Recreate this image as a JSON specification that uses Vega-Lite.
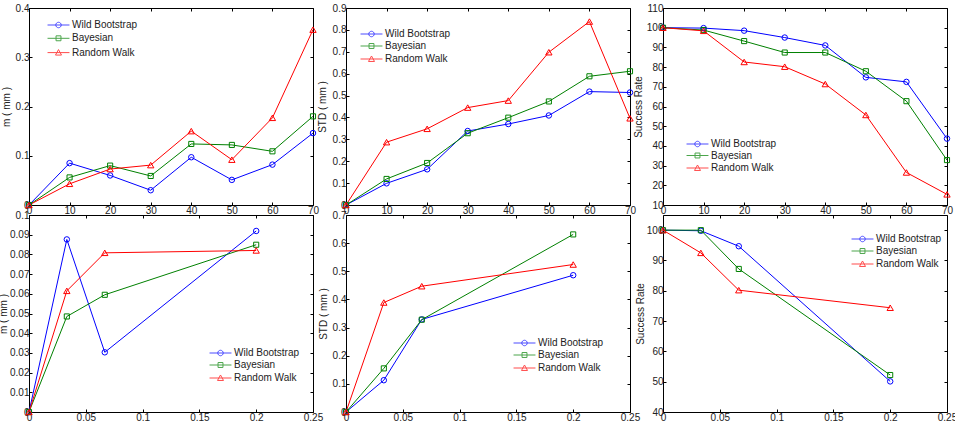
{
  "$schema": "https://vega.github.io/schema/vega-lite/v6.json",
  "background": "white",
  "padding": {"left": -3, "top": 2, "right": 0, "bottom": 0},
  "datasets": {
    "p1": [
      {"method": "Wild Bootstrap", "x": 0, "y": 0}, {"method": "Wild Bootstrap", "x": 10, "y": 0.085}, {"method": "Wild Bootstrap", "x": 20, "y": 0.06}, {"method": "Wild Bootstrap", "x": 30, "y": 0.03}, {"method": "Wild Bootstrap", "x": 40, "y": 0.097}, {"method": "Wild Bootstrap", "x": 50, "y": 0.051}, {"method": "Wild Bootstrap", "x": 60, "y": 0.082}, {"method": "Wild Bootstrap", "x": 70, "y": 0.146},
      {"method": "Bayesian", "x": 0, "y": 0}, {"method": "Bayesian", "x": 10, "y": 0.056}, {"method": "Bayesian", "x": 20, "y": 0.08}, {"method": "Bayesian", "x": 30, "y": 0.059}, {"method": "Bayesian", "x": 40, "y": 0.124}, {"method": "Bayesian", "x": 50, "y": 0.122}, {"method": "Bayesian", "x": 60, "y": 0.109}, {"method": "Bayesian", "x": 70, "y": 0.18},
      {"method": "Random Walk", "x": 0, "y": 0}, {"method": "Random Walk", "x": 10, "y": 0.043}, {"method": "Random Walk", "x": 20, "y": 0.073}, {"method": "Random Walk", "x": 30, "y": 0.081}, {"method": "Random Walk", "x": 40, "y": 0.15}, {"method": "Random Walk", "x": 50, "y": 0.092}, {"method": "Random Walk", "x": 60, "y": 0.177}, {"method": "Random Walk", "x": 70, "y": 0.356}
    ],
    "p2": [
      {"method": "Wild Bootstrap", "x": 0, "y": 0}, {"method": "Wild Bootstrap", "x": 10, "y": 0.099}, {"method": "Wild Bootstrap", "x": 20, "y": 0.163}, {"method": "Wild Bootstrap", "x": 30, "y": 0.338}, {"method": "Wild Bootstrap", "x": 40, "y": 0.37}, {"method": "Wild Bootstrap", "x": 50, "y": 0.409}, {"method": "Wild Bootstrap", "x": 60, "y": 0.518}, {"method": "Wild Bootstrap", "x": 70, "y": 0.514},
      {"method": "Bayesian", "x": 0, "y": 0}, {"method": "Bayesian", "x": 10, "y": 0.119}, {"method": "Bayesian", "x": 20, "y": 0.192}, {"method": "Bayesian", "x": 30, "y": 0.328}, {"method": "Bayesian", "x": 40, "y": 0.399}, {"method": "Bayesian", "x": 50, "y": 0.473}, {"method": "Bayesian", "x": 60, "y": 0.588}, {"method": "Bayesian", "x": 70, "y": 0.611},
      {"method": "Random Walk", "x": 0, "y": 0}, {"method": "Random Walk", "x": 10, "y": 0.287}, {"method": "Random Walk", "x": 20, "y": 0.348}, {"method": "Random Walk", "x": 30, "y": 0.445}, {"method": "Random Walk", "x": 40, "y": 0.477}, {"method": "Random Walk", "x": 50, "y": 0.698}, {"method": "Random Walk", "x": 60, "y": 0.838}, {"method": "Random Walk", "x": 70, "y": 0.396}
    ],
    "p3": [
      {"method": "Wild Bootstrap", "x": 0, "y": 100}, {"method": "Wild Bootstrap", "x": 10, "y": 99.8}, {"method": "Wild Bootstrap", "x": 20, "y": 98.5}, {"method": "Wild Bootstrap", "x": 30, "y": 95}, {"method": "Wild Bootstrap", "x": 40, "y": 91}, {"method": "Wild Bootstrap", "x": 50, "y": 74.8}, {"method": "Wild Bootstrap", "x": 60, "y": 72.5}, {"method": "Wild Bootstrap", "x": 70, "y": 43.7},
      {"method": "Bayesian", "x": 0, "y": 100}, {"method": "Bayesian", "x": 10, "y": 98.8}, {"method": "Bayesian", "x": 20, "y": 93.2}, {"method": "Bayesian", "x": 30, "y": 87.4}, {"method": "Bayesian", "x": 40, "y": 87.4}, {"method": "Bayesian", "x": 50, "y": 77.9}, {"method": "Bayesian", "x": 60, "y": 62.7}, {"method": "Bayesian", "x": 70, "y": 32.8},
      {"method": "Random Walk", "x": 0, "y": 100}, {"method": "Random Walk", "x": 10, "y": 98.4}, {"method": "Random Walk", "x": 20, "y": 82.6}, {"method": "Random Walk", "x": 30, "y": 80.2}, {"method": "Random Walk", "x": 40, "y": 71.4}, {"method": "Random Walk", "x": 50, "y": 55.7}, {"method": "Random Walk", "x": 60, "y": 26.5}, {"method": "Random Walk", "x": 70, "y": 15.4}
    ],
    "p4": [
      {"method": "Wild Bootstrap", "x": 0, "y": 0}, {"method": "Wild Bootstrap", "x": 0.0333, "y": 0.0876}, {"method": "Wild Bootstrap", "x": 0.0667, "y": 0.0303}, {"method": "Wild Bootstrap", "x": 0.2, "y": 0.0919},
      {"method": "Bayesian", "x": 0, "y": 0}, {"method": "Bayesian", "x": 0.0333, "y": 0.0485}, {"method": "Bayesian", "x": 0.0667, "y": 0.0595}, {"method": "Bayesian", "x": 0.2, "y": 0.0849},
      {"method": "Random Walk", "x": 0, "y": 0}, {"method": "Random Walk", "x": 0.0333, "y": 0.0615}, {"method": "Random Walk", "x": 0.0667, "y": 0.0808}, {"method": "Random Walk", "x": 0.2, "y": 0.082}
    ],
    "p5": [
      {"method": "Wild Bootstrap", "x": 0, "y": 0}, {"method": "Wild Bootstrap", "x": 0.0333, "y": 0.113}, {"method": "Wild Bootstrap", "x": 0.0667, "y": 0.329}, {"method": "Wild Bootstrap", "x": 0.2, "y": 0.486},
      {"method": "Bayesian", "x": 0, "y": 0}, {"method": "Bayesian", "x": 0.0333, "y": 0.155}, {"method": "Bayesian", "x": 0.0667, "y": 0.328}, {"method": "Bayesian", "x": 0.2, "y": 0.631},
      {"method": "Random Walk", "x": 0, "y": 0}, {"method": "Random Walk", "x": 0.0333, "y": 0.389}, {"method": "Random Walk", "x": 0.0667, "y": 0.447}, {"method": "Random Walk", "x": 0.2, "y": 0.524}
    ],
    "p6": [
      {"method": "Wild Bootstrap", "x": 0, "y": 100}, {"method": "Wild Bootstrap", "x": 0.0333, "y": 99.8}, {"method": "Wild Bootstrap", "x": 0.0667, "y": 94.7}, {"method": "Wild Bootstrap", "x": 0.2, "y": 50.1},
      {"method": "Bayesian", "x": 0, "y": 100}, {"method": "Bayesian", "x": 0.0333, "y": 100}, {"method": "Bayesian", "x": 0.0667, "y": 87.2}, {"method": "Bayesian", "x": 0.2, "y": 52.2},
      {"method": "Random Walk", "x": 0, "y": 100}, {"method": "Random Walk", "x": 0.0333, "y": 92.5}, {"method": "Random Walk", "x": 0.0667, "y": 80.2}, {"method": "Random Walk", "x": 0.2, "y": 74.4}
    ]
  },
  "columns": 3,
  "spacing": {"row": 10, "column": 33},
  "bounds": "flush",
  "resolve": {"scale": {"color": "independent", "shape": "independent", "stroke": "independent"}, "legend": {"color": "independent", "shape": "independent"}},
  "concat": [
    {
      "width": 284, "height": 197,
      "data": {"name": "p1"},
      "layer": [
        {"mark": {"type": "line", "strokeWidth": 1},
         "encoding": {
           "x": {"field": "x", "type": "quantitative", "scale": {"domain": [0, 70], "nice": false, "zero": false}, "axis": {"values": [0, 10, 20, 30, 40, 50, 60, 70], "title": null}},
           "y": {"field": "y", "type": "quantitative", "scale": {"domain": [0, 0.4], "nice": false, "zero": false}, "axis": {"values": [0, 0.1, 0.2, 0.3, 0.4], "title": "m ( mm )", "titleX": -18}},
           "stroke": {"field": "method", "type": "nominal", "scale": {"domain": ["Bayesian", "Random Walk", "Wild Bootstrap"], "range": ["#008000", "#ff0000", "#0000ff"]}, "legend": null}
         }},
        {"transform": [{"filter": "datum.method === 'Wild Bootstrap'"}],
         "mark": {"type": "point", "shape": "circle", "filled": false, "strokeWidth": 1, "opacity": 1, "size": 30},
         "encoding": {
           "x": {"field": "x", "type": "quantitative", "axis": {"orient": "top", "values": [0, 10, 20, 30, 40, 50, 60, 70], "labels": false, "title": null}},
           "y": {"field": "y", "type": "quantitative", "axis": {"orient": "right", "values": [0, 0.1, 0.2, 0.3, 0.4], "labels": false, "title": null}},
           "stroke": {"field": "method", "type": "nominal", "legend": null}
         }},
        {"transform": [{"filter": "datum.method === 'Bayesian'"}],
         "mark": {"type": "point", "shape": "square", "filled": false, "strokeWidth": 1, "opacity": 1, "size": 26},
         "encoding": {
           "x": {"field": "x", "type": "quantitative", "axis": null},
           "y": {"field": "y", "type": "quantitative", "axis": null},
           "stroke": {"field": "method", "type": "nominal", "legend": null}
         }},
        {"transform": [{"filter": "datum.method === 'Random Walk'"}],
         "mark": {"type": "point", "shape": "triangle-up", "filled": false, "strokeWidth": 1, "opacity": 1, "size": 40},
         "encoding": {
           "x": {"field": "x", "type": "quantitative", "axis": null},
           "y": {"field": "y", "type": "quantitative", "axis": null},
           "stroke": {"field": "method", "type": "nominal", "legend": null}
         }},
        {"transform": [{"filter": "false"}],
         "mark": {"type": "point", "filled": false, "strokeWidth": 1, "size": 30},
         "encoding": {
           "x": {"field": "x", "type": "quantitative", "axis": null},
           "y": {"field": "y", "type": "quantitative", "axis": null},
           "color": {"field": "method", "type": "nominal", "scale": {"domain": ["Wild Bootstrap", "Bayesian", "Random Walk"], "range": ["#0000ff", "#008000", "#ff0000"]}, "legend": {"orient": "none", "legendX": 24.5, "legendY": 12, "rowPadding": 3.3}},
           "shape": {"field": "method", "type": "nominal", "scale": {"domain": ["Wild Bootstrap", "Bayesian", "Random Walk"], "range": ["M-4,0H4M1,0A1,1 0 1,0 -1,0A1,1 0 1,0 1,0", "M-4,0H4M-0.9,-0.9H0.9V0.9H-0.9Z", "M-4,0H4M0,-1.1L1.1,0.9L-1.1,0.9Z"]}, "legend": {"orient": "none", "legendX": 24.5, "legendY": 12, "rowPadding": 3.3}}
         }}
      ],
      "resolve": {"axis": {"x": "independent", "y": "independent"}}
    },
    {
      "width": 284, "height": 197,
      "data": {"name": "p2"},
      "layer": [
        {"mark": {"type": "line", "strokeWidth": 1},
         "encoding": {
           "x": {"field": "x", "type": "quantitative", "scale": {"domain": [0, 70], "nice": false, "zero": false}, "axis": {"values": [0, 10, 20, 30, 40, 50, 60, 70], "title": null}},
           "y": {"field": "y", "type": "quantitative", "scale": {"domain": [0, 0.9], "nice": false, "zero": false}, "axis": {"values": [0, 0.1, 0.2, 0.3, 0.4, 0.5, 0.6, 0.7, 0.8, 0.9], "title": "STD ( mm )", "titleX": -19}},
           "stroke": {"field": "method", "type": "nominal", "scale": {"domain": ["Bayesian", "Random Walk", "Wild Bootstrap"], "range": ["#008000", "#ff0000", "#0000ff"]}, "legend": null}
         }},
        {"transform": [{"filter": "datum.method === 'Wild Bootstrap'"}],
         "mark": {"type": "point", "shape": "circle", "filled": false, "strokeWidth": 1, "opacity": 1, "size": 30},
         "encoding": {
           "x": {"field": "x", "type": "quantitative", "axis": {"orient": "top", "values": [0, 10, 20, 30, 40, 50, 60, 70], "labels": false, "title": null}},
           "y": {"field": "y", "type": "quantitative", "axis": {"orient": "right", "values": [0, 0.1, 0.2, 0.3, 0.4, 0.5, 0.6, 0.7, 0.8, 0.9], "labels": false, "title": null}},
           "stroke": {"field": "method", "type": "nominal", "legend": null}
         }},
        {"transform": [{"filter": "datum.method === 'Bayesian'"}],
         "mark": {"type": "point", "shape": "square", "filled": false, "strokeWidth": 1, "opacity": 1, "size": 26},
         "encoding": {
           "x": {"field": "x", "type": "quantitative", "axis": null},
           "y": {"field": "y", "type": "quantitative", "axis": null},
           "stroke": {"field": "method", "type": "nominal", "legend": null}
         }},
        {"transform": [{"filter": "datum.method === 'Random Walk'"}],
         "mark": {"type": "point", "shape": "triangle-up", "filled": false, "strokeWidth": 1, "opacity": 1, "size": 40},
         "encoding": {
           "x": {"field": "x", "type": "quantitative", "axis": null},
           "y": {"field": "y", "type": "quantitative", "axis": null},
           "stroke": {"field": "method", "type": "nominal", "legend": null}
         }},
        {"transform": [{"filter": "false"}],
         "mark": {"type": "point", "filled": false, "strokeWidth": 1, "size": 30},
         "encoding": {
           "x": {"field": "x", "type": "quantitative", "axis": null},
           "y": {"field": "y", "type": "quantitative", "axis": null},
           "color": {"field": "method", "type": "nominal", "scale": {"domain": ["Wild Bootstrap", "Bayesian", "Random Walk"], "range": ["#0000ff", "#008000", "#ff0000"]}, "legend": {"orient": "none", "legendX": 20.5, "legendY": 21, "rowPadding": 2}},
           "shape": {"field": "method", "type": "nominal", "scale": {"domain": ["Wild Bootstrap", "Bayesian", "Random Walk"], "range": ["M-4,0H4M1,0A1,1 0 1,0 -1,0A1,1 0 1,0 1,0", "M-4,0H4M-0.9,-0.9H0.9V0.9H-0.9Z", "M-4,0H4M0,-1.1L1.1,0.9L-1.1,0.9Z"]}, "legend": {"orient": "none", "legendX": 20.5, "legendY": 21, "rowPadding": 2}}
         }}
      ],
      "resolve": {"axis": {"x": "independent", "y": "independent"}}
    },
    {
      "width": 284, "height": 197,
      "data": {"name": "p3"},
      "layer": [
        {"mark": {"type": "line", "strokeWidth": 1},
         "encoding": {
           "x": {"field": "x", "type": "quantitative", "scale": {"domain": [0, 70], "nice": false, "zero": false}, "axis": {"values": [0, 10, 20, 30, 40, 50, 60, 70], "title": null}},
           "y": {"field": "y", "type": "quantitative", "scale": {"domain": [10, 110], "nice": false, "zero": false}, "axis": {"values": [10, 20, 30, 40, 50, 60, 70, 80, 90, 100, 110], "title": "Success Rate", "titleX": -20}},
           "stroke": {"field": "method", "type": "nominal", "scale": {"domain": ["Bayesian", "Random Walk", "Wild Bootstrap"], "range": ["#008000", "#ff0000", "#0000ff"]}, "legend": null}
         }},
        {"transform": [{"filter": "datum.method === 'Wild Bootstrap'"}],
         "mark": {"type": "point", "shape": "circle", "filled": false, "strokeWidth": 1, "opacity": 1, "size": 30},
         "encoding": {
           "x": {"field": "x", "type": "quantitative", "axis": {"orient": "top", "values": [0, 10, 20, 30, 40, 50, 60, 70], "labels": false, "title": null}},
           "y": {"field": "y", "type": "quantitative", "axis": {"orient": "right", "values": [10, 20, 30, 40, 50, 60, 70, 80, 90, 100, 110], "labels": false, "title": null}},
           "stroke": {"field": "method", "type": "nominal", "legend": null}
         }},
        {"transform": [{"filter": "datum.method === 'Bayesian'"}],
         "mark": {"type": "point", "shape": "square", "filled": false, "strokeWidth": 1, "opacity": 1, "size": 26},
         "encoding": {
           "x": {"field": "x", "type": "quantitative", "axis": null},
           "y": {"field": "y", "type": "quantitative", "axis": null},
           "stroke": {"field": "method", "type": "nominal", "legend": null}
         }},
        {"transform": [{"filter": "datum.method === 'Random Walk'"}],
         "mark": {"type": "point", "shape": "triangle-up", "filled": false, "strokeWidth": 1, "opacity": 1, "size": 40},
         "encoding": {
           "x": {"field": "x", "type": "quantitative", "axis": null},
           "y": {"field": "y", "type": "quantitative", "axis": null},
           "stroke": {"field": "method", "type": "nominal", "legend": null}
         }},
        {"transform": [{"filter": "false"}],
         "mark": {"type": "point", "filled": false, "strokeWidth": 1, "size": 30},
         "encoding": {
           "x": {"field": "x", "type": "quantitative", "axis": null},
           "y": {"field": "y", "type": "quantitative", "axis": null},
           "color": {"field": "method", "type": "nominal", "scale": {"domain": ["Wild Bootstrap", "Bayesian", "Random Walk"], "range": ["#0000ff", "#008000", "#ff0000"]}, "legend": {"orient": "none", "legendX": 29.5, "legendY": 131, "rowPadding": 1.5}},
           "shape": {"field": "method", "type": "nominal", "scale": {"domain": ["Wild Bootstrap", "Bayesian", "Random Walk"], "range": ["M-4,0H4M1,0A1,1 0 1,0 -1,0A1,1 0 1,0 1,0", "M-4,0H4M-0.9,-0.9H0.9V0.9H-0.9Z", "M-4,0H4M0,-1.1L1.1,0.9L-1.1,0.9Z"]}, "legend": {"orient": "none", "legendX": 29.5, "legendY": 131, "rowPadding": 1.5}}
         }}
      ],
      "resolve": {"axis": {"x": "independent", "y": "independent"}}
    },
    {
      "width": 284, "height": 197,
      "data": {"name": "p4"},
      "layer": [
        {"mark": {"type": "line", "strokeWidth": 1},
         "encoding": {
           "x": {"field": "x", "type": "quantitative", "scale": {"domain": [0, 0.25], "nice": false, "zero": false}, "axis": {"values": [0, 0.05, 0.1, 0.15, 0.2, 0.25], "title": null}},
           "y": {"field": "y", "type": "quantitative", "scale": {"domain": [0, 0.1], "nice": false, "zero": false}, "axis": {"values": [0, 0.01, 0.02, 0.03, 0.04, 0.05, 0.06, 0.07, 0.08, 0.09, 0.1], "title": "m ( mm )", "titleX": -21}},
           "stroke": {"field": "method", "type": "nominal", "scale": {"domain": ["Bayesian", "Random Walk", "Wild Bootstrap"], "range": ["#008000", "#ff0000", "#0000ff"]}, "legend": null}
         }},
        {"transform": [{"filter": "datum.method === 'Wild Bootstrap'"}],
         "mark": {"type": "point", "shape": "circle", "filled": false, "strokeWidth": 1, "opacity": 1, "size": 30},
         "encoding": {
           "x": {"field": "x", "type": "quantitative", "axis": {"orient": "top", "values": [0, 0.05, 0.1, 0.15, 0.2, 0.25], "labels": false, "title": null}},
           "y": {"field": "y", "type": "quantitative", "axis": {"orient": "right", "values": [0, 0.01, 0.02, 0.03, 0.04, 0.05, 0.06, 0.07, 0.08, 0.09, 0.1], "labels": false, "title": null}},
           "stroke": {"field": "method", "type": "nominal", "legend": null}
         }},
        {"transform": [{"filter": "datum.method === 'Bayesian'"}],
         "mark": {"type": "point", "shape": "square", "filled": false, "strokeWidth": 1, "opacity": 1, "size": 26},
         "encoding": {
           "x": {"field": "x", "type": "quantitative", "axis": null},
           "y": {"field": "y", "type": "quantitative", "axis": null},
           "stroke": {"field": "method", "type": "nominal", "legend": null}
         }},
        {"transform": [{"filter": "datum.method === 'Random Walk'"}],
         "mark": {"type": "point", "shape": "triangle-up", "filled": false, "strokeWidth": 1, "opacity": 1, "size": 40},
         "encoding": {
           "x": {"field": "x", "type": "quantitative", "axis": null},
           "y": {"field": "y", "type": "quantitative", "axis": null},
           "stroke": {"field": "method", "type": "nominal", "legend": null}
         }},
        {"transform": [{"filter": "false"}],
         "mark": {"type": "point", "filled": false, "strokeWidth": 1, "size": 30},
         "encoding": {
           "x": {"field": "x", "type": "quantitative", "axis": null},
           "y": {"field": "y", "type": "quantitative", "axis": null},
           "color": {"field": "method", "type": "nominal", "scale": {"domain": ["Wild Bootstrap", "Bayesian", "Random Walk"], "range": ["#0000ff", "#008000", "#ff0000"]}, "legend": {"orient": "none", "legendX": 186.5, "legendY": 133, "rowPadding": 2}},
           "shape": {"field": "method", "type": "nominal", "scale": {"domain": ["Wild Bootstrap", "Bayesian", "Random Walk"], "range": ["M-4,0H4M1,0A1,1 0 1,0 -1,0A1,1 0 1,0 1,0", "M-4,0H4M-0.9,-0.9H0.9V0.9H-0.9Z", "M-4,0H4M0,-1.1L1.1,0.9L-1.1,0.9Z"]}, "legend": {"orient": "none", "legendX": 186.5, "legendY": 133, "rowPadding": 2}}
         }}
      ],
      "resolve": {"axis": {"x": "independent", "y": "independent"}}
    },
    {
      "width": 284, "height": 197,
      "data": {"name": "p5"},
      "layer": [
        {"mark": {"type": "line", "strokeWidth": 1},
         "encoding": {
           "x": {"field": "x", "type": "quantitative", "scale": {"domain": [0, 0.25], "nice": false, "zero": false}, "axis": {"values": [0, 0.05, 0.1, 0.15, 0.2, 0.25], "title": null}},
           "y": {"field": "y", "type": "quantitative", "scale": {"domain": [0, 0.7], "nice": false, "zero": false}, "axis": {"values": [0, 0.1, 0.2, 0.3, 0.4, 0.5, 0.6, 0.7], "title": "STD ( mm )", "titleX": -18}},
           "stroke": {"field": "method", "type": "nominal", "scale": {"domain": ["Bayesian", "Random Walk", "Wild Bootstrap"], "range": ["#008000", "#ff0000", "#0000ff"]}, "legend": null}
         }},
        {"transform": [{"filter": "datum.method === 'Wild Bootstrap'"}],
         "mark": {"type": "point", "shape": "circle", "filled": false, "strokeWidth": 1, "opacity": 1, "size": 30},
         "encoding": {
           "x": {"field": "x", "type": "quantitative", "axis": {"orient": "top", "values": [0, 0.05, 0.1, 0.15, 0.2, 0.25], "labels": false, "title": null}},
           "y": {"field": "y", "type": "quantitative", "axis": {"orient": "right", "values": [0, 0.1, 0.2, 0.3, 0.4, 0.5, 0.6, 0.7], "labels": false, "title": null}},
           "stroke": {"field": "method", "type": "nominal", "legend": null}
         }},
        {"transform": [{"filter": "datum.method === 'Bayesian'"}],
         "mark": {"type": "point", "shape": "square", "filled": false, "strokeWidth": 1, "opacity": 1, "size": 26},
         "encoding": {
           "x": {"field": "x", "type": "quantitative", "axis": null},
           "y": {"field": "y", "type": "quantitative", "axis": null},
           "stroke": {"field": "method", "type": "nominal", "legend": null}
         }},
        {"transform": [{"filter": "datum.method === 'Random Walk'"}],
         "mark": {"type": "point", "shape": "triangle-up", "filled": false, "strokeWidth": 1, "opacity": 1, "size": 40},
         "encoding": {
           "x": {"field": "x", "type": "quantitative", "axis": null},
           "y": {"field": "y", "type": "quantitative", "axis": null},
           "stroke": {"field": "method", "type": "nominal", "legend": null}
         }},
        {"transform": [{"filter": "false"}],
         "mark": {"type": "point", "filled": false, "strokeWidth": 1, "size": 30},
         "encoding": {
           "x": {"field": "x", "type": "quantitative", "axis": null},
           "y": {"field": "y", "type": "quantitative", "axis": null},
           "color": {"field": "method", "type": "nominal", "scale": {"domain": ["Wild Bootstrap", "Bayesian", "Random Walk"], "range": ["#0000ff", "#008000", "#ff0000"]}, "legend": {"orient": "none", "legendX": 173.5, "legendY": 123, "rowPadding": 2}},
           "shape": {"field": "method", "type": "nominal", "scale": {"domain": ["Wild Bootstrap", "Bayesian", "Random Walk"], "range": ["M-4,0H4M1,0A1,1 0 1,0 -1,0A1,1 0 1,0 1,0", "M-4,0H4M-0.9,-0.9H0.9V0.9H-0.9Z", "M-4,0H4M0,-1.1L1.1,0.9L-1.1,0.9Z"]}, "legend": {"orient": "none", "legendX": 173.5, "legendY": 123, "rowPadding": 2}}
         }}
      ],
      "resolve": {"axis": {"x": "independent", "y": "independent"}}
    },
    {
      "width": 284, "height": 197,
      "data": {"name": "p6"},
      "layer": [
        {"mark": {"type": "line", "strokeWidth": 1},
         "encoding": {
           "x": {"field": "x", "type": "quantitative", "scale": {"domain": [0, 0.25], "nice": false, "zero": false}, "axis": {"values": [0, 0.05, 0.1, 0.15, 0.2, 0.25], "title": null}},
           "y": {"field": "y", "type": "quantitative", "scale": {"domain": [40, 105], "nice": false, "zero": false}, "axis": {"values": [40, 50, 60, 70, 80, 90, 100], "title": "Success Rate", "titleX": -18}},
           "stroke": {"field": "method", "type": "nominal", "scale": {"domain": ["Bayesian", "Random Walk", "Wild Bootstrap"], "range": ["#008000", "#ff0000", "#0000ff"]}, "legend": null}
         }},
        {"transform": [{"filter": "datum.method === 'Wild Bootstrap'"}],
         "mark": {"type": "point", "shape": "circle", "filled": false, "strokeWidth": 1, "opacity": 1, "size": 30},
         "encoding": {
           "x": {"field": "x", "type": "quantitative", "axis": {"orient": "top", "values": [0, 0.05, 0.1, 0.15, 0.2, 0.25], "labels": false, "title": null}},
           "y": {"field": "y", "type": "quantitative", "axis": {"orient": "right", "values": [40, 50, 60, 70, 80, 90, 100], "labels": false, "title": null}},
           "stroke": {"field": "method", "type": "nominal", "legend": null}
         }},
        {"transform": [{"filter": "datum.method === 'Bayesian'"}],
         "mark": {"type": "point", "shape": "square", "filled": false, "strokeWidth": 1, "opacity": 1, "size": 26},
         "encoding": {
           "x": {"field": "x", "type": "quantitative", "axis": null},
           "y": {"field": "y", "type": "quantitative", "axis": null},
           "stroke": {"field": "method", "type": "nominal", "legend": null}
         }},
        {"transform": [{"filter": "datum.method === 'Random Walk'"}],
         "mark": {"type": "point", "shape": "triangle-up", "filled": false, "strokeWidth": 1, "opacity": 1, "size": 40},
         "encoding": {
           "x": {"field": "x", "type": "quantitative", "axis": null},
           "y": {"field": "y", "type": "quantitative", "axis": null},
           "stroke": {"field": "method", "type": "nominal", "legend": null}
         }},
        {"transform": [{"filter": "false"}],
         "mark": {"type": "point", "filled": false, "strokeWidth": 1, "size": 30},
         "encoding": {
           "x": {"field": "x", "type": "quantitative", "axis": null},
           "y": {"field": "y", "type": "quantitative", "axis": null},
           "color": {"field": "method", "type": "nominal", "scale": {"domain": ["Wild Bootstrap", "Bayesian", "Random Walk"], "range": ["#0000ff", "#008000", "#ff0000"]}, "legend": {"orient": "none", "legendX": 194.5, "legendY": 19, "rowPadding": 2}},
           "shape": {"field": "method", "type": "nominal", "scale": {"domain": ["Wild Bootstrap", "Bayesian", "Random Walk"], "range": ["M-4,0H4M1,0A1,1 0 1,0 -1,0A1,1 0 1,0 1,0", "M-4,0H4M-0.9,-0.9H0.9V0.9H-0.9Z", "M-4,0H4M0,-1.1L1.1,0.9L-1.1,0.9Z"]}, "legend": {"orient": "none", "legendX": 194.5, "legendY": 19, "rowPadding": 2}}
         }}
      ],
      "resolve": {"axis": {"x": "independent", "y": "independent"}}
    }
  ],
  "config": {
    "font": "Liberation Sans",
    "view": {"stroke": "#000000", "strokeWidth": 1, "fill": "white"},
    "axis": {
      "domain": false, "grid": false, "tickSize": -3, "tickColor": "#000000", "tickWidth": 1,
      "labelFont": "Liberation Sans", "labelFontSize": 10, "labelColor": "#222222", "labelPadding": 3,
      "labelFlush": false, "labelOverlap": false, "format": ".2~f",
      "titleFont": "Liberation Sans", "titleFontSize": 10, "titleFontWeight": "normal", "titleColor": "#222222", "titlePadding": 3
    },
    "legend": {
      "title": null, "symbolSize": 30, "symbolStrokeWidth": 1, "labelOffset": 8.5,
      "labelFont": "Liberation Sans", "labelFontSize": 10, "labelColor": "#222222"
    }
  }
}
